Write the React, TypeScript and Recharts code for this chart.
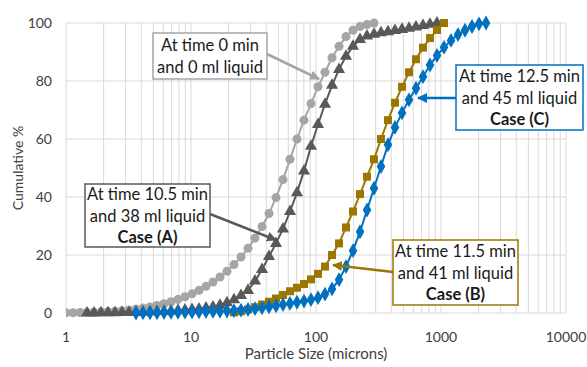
import React from 'react';
import { ComposedChart, Scatter, XAxis, YAxis, ZAxis, CartesianGrid, Label } from 'recharts';

// shared particle size bins (microns)
const SIZES = [
  1.0, 1.138, 1.295, 1.473, 1.675, 1.905, 2.168, 2.466, 2.805, 3.192,
  3.631, 4.13, 4.699, 5.346, 6.081, 6.918, 7.87, 8.954, 10.19, 11.59,
  13.18, 15.0, 17.06, 19.41, 22.08, 25.12, 28.58, 32.51, 36.98, 42.07,
  47.86, 54.45, 61.94, 70.47, 80.17, 91.2, 103.8, 118.0, 134.3, 152.8,
  173.8, 197.7, 225.0, 255.9, 291.1, 331.1, 376.7, 428.5, 487.5, 554.6,
  631.0, 717.8, 816.6, 929.0, 1057, 1202, 1368, 1556, 1770, 2014, 2291,
];

const GRID_X = [
  1, 2, 3, 4, 5, 6, 7, 8, 9,
  10, 20, 30, 40, 50, 60, 70, 80, 90,
  100, 200, 300, 400, 500, 600, 700, 800, 900,
  1000, 2000, 3000, 4000, 5000, 6000, 7000, 8000, 9000,
  10000,
];
const Y_TICKS = [0, 20, 40, 60, 80, 100];

// cumulative % per series, starting at the given bin
const T0_START = 0;
const T0_VALUES = [
  0.05, 0.1, 0.15, 0.2, 0.25, 0.35, 0.45, 0.6, 0.8, 1.05,
  1.35, 1.7, 2.1, 2.6, 3.2, 3.9, 4.7, 5.6, 6.6, 7.8,
  9.2, 10.7, 12.4, 14.4, 16.7, 19.3, 22.3, 25.8, 29.8, 34.3,
  39.8, 46, 53, 60, 66.5, 72.2, 78, 83, 88, 92,
  95.3, 97.5, 98.8, 99.5, 100,
];

const CASE_A_START = 3;
const CASE_A_VALUES = [
  0, 0, 0.05, 0.1, 0.1, 0.15, 0.2, 0.25, 0.3, 0.4,
  0.5, 0.6, 0.7, 0.85, 1.0, 1.2, 1.4, 1.7, 2.1, 2.7,
  3.5, 4.6, 6.0, 7.8, 11, 15, 19.5, 24, 29, 35,
  41.5, 49, 57.5, 65, 72, 78.5, 84, 88.5, 92, 94.3,
  95.5, 96.1, 96.6, 97, 97.4, 97.8, 98.2, 98.6, 99.1, 99.6,
  100,
];

const CASE_B_START = 24;
const CASE_B_VALUES = [
  0.2, 0.6, 1.2, 2.0, 2.9, 3.9, 5.0, 6.2, 7.5, 8.7,
  10.0, 11.6, 13.5, 16, 20, 24, 29.5, 35, 41, 47,
  53, 60, 66.5, 72.5, 78, 83, 87.5, 91.5, 94.8, 97.6,
  100,
];

const CASE_C_START = 10;
const CASE_C_VALUES = [
  0, 0.05, 0.1, 0.1, 0.15, 0.2, 0.25, 0.3, 0.35, 0.4,
  0.5, 0.55, 0.6, 0.7, 0.8, 1.0, 1.2, 1.5, 1.8, 2.1,
  2.5, 2.9, 3.3, 3.7, 4.1, 4.6, 5.3, 6.5, 8.3, 11.5,
  16, 21.5, 28, 35.5, 43, 50.5, 58, 64, 69, 73.5,
  77.5, 81.5, 85.5, 88.8, 91.6, 94, 96, 97.5, 98.8, 99.7,
  100,
];

const toPoints = (start: number, values: number[]) =>
  values.map((y, i) => ({ x: SIZES[start + i], y }));

const GRAY = '#A5A5A5';
const DARK = '#595959';
const GOLD = '#9C7700';
const BLUE = '#0070C0';
const FONT = 'Lato, "Open Sans", sans-serif';

const XTick = (props: any) => {
  const { x, y, payload } = props;
  const lg = Math.log10(payload.value);
  if (Math.abs(lg - Math.round(lg)) > 1e-9) return <g />;
  return (
    <text x={x} y={y + 27} textAnchor="middle" fontSize={14} fill="#404040" fontFamily={FONT}>
      {payload.value}
    </text>
  );
};

type Note = {
  x: number; y: number; w: number; h: number;
  color: string; lines: string[]; bold?: string;
  from: [number, number]; to: [number, number];
};

const NOTES: Note[] = [
  { x: 153, y: 33, w: 114, h: 46, color: GRAY, lines: ['At time 0 min', 'and 0 ml liquid'], from: [267, 54], to: [319, 79] },
  { x: 85, y: 184, w: 125, h: 63, color: DARK, lines: ['At time 10.5 min', 'and 38 ml liquid'], bold: 'Case (A)', from: [210, 214], to: [276, 240] },
  { x: 456, y: 65, w: 127, h: 65, color: BLUE, lines: ['At time 12.5 min', 'and 45 ml liquid'], bold: 'Case (C)', from: [456, 98], to: [418, 98] },
  { x: 393, y: 240, w: 125, h: 65, color: GOLD, lines: ['At time 11.5 min', 'and 41 ml liquid'], bold: 'Case (B)', from: [393, 272], to: [333, 265] },
];

function Annotations() {
  return (
    <svg width={587} height={367} style={{ position: 'absolute', left: 0, top: 0, pointerEvents: 'none' }}>
      <defs>
        {NOTES.map((n, i) => (
          <marker key={i} id={`arrow-${i}`} viewBox="0 0 10 10" refX="9" refY="5" markerWidth="4" markerHeight="4" orient="auto">
            <path d="M0,0 L10,5 L0,10 z" fill={n.color} />
          </marker>
        ))}
      </defs>
      <text x={17} y={168} transform="rotate(-90 17 168)" textAnchor="middle" dominantBaseline="central" fontSize={14} fill="#404040" fontFamily={FONT}>
        Cumulative %
      </text>
      {NOTES.map((n, i) => {
        const all = n.bold ? [...n.lines, n.bold] : n.lines;
        const lh = 21.7;
        const top = n.y + n.h / 2 - (lh * (all.length - 1)) / 2;
        return (
          <g key={i}>
            <line x1={n.from[0]} y1={n.from[1]} x2={n.to[0]} y2={n.to[1]} stroke={n.color} strokeWidth={2.5} markerEnd={`url(#arrow-${i})`} />
            <rect x={n.x} y={n.y} width={n.w} height={n.h} fill="#fff" stroke={n.color} strokeWidth={1.5} />
            {all.map((t, j) => (
              <text key={j} x={n.x + n.w / 2} y={top + j * lh} textAnchor="middle" dominantBaseline="central"
                fontSize={16.5} fill="#1a1a1a" fontFamily={FONT} fontWeight={n.bold && j === all.length - 1 ? 700 : 400}>
                {t}
              </text>
            ))}
          </g>
        );
      })}
    </svg>
  );
}

export default function App() {
  return (
    <div style={{ position: 'absolute', left: 0, top: 0, width: 587, height: 367, background: '#fff' }}>
      <ComposedChart width={587} height={367} margin={{ top: 23, right: 21, bottom: 0, left: 0 }}>
        <CartesianGrid stroke="#D9D9D9" strokeWidth={1} />
        <XAxis
          type="number"
          dataKey="x"
          scale="log"
          domain={[1, 10000]}
          ticks={GRID_X}
          interval={0}
          allowDataOverflow
          axisLine={false}
          tickLine={false}
          tickSize={0}
          tick={<XTick />}
          height={54}
        >
          <Label value="Particle Size (microns)" position="insideBottom" offset={8} fontSize={15} fill="#404040" fontFamily={FONT} />
        </XAxis>
        <YAxis
          type="number"
          dataKey="y"
          domain={[0, 100]}
          ticks={Y_TICKS}
          axisLine={false}
          tickLine={false}
          tickSize={0}
          tickMargin={14}
          width={66}
          tick={{ fontSize: 14, fill: '#404040', fontFamily: FONT }}
        />
        <ZAxis range={[52, 52]} />
        <Scatter data={toPoints(T0_START, T0_VALUES)} shape="circle" fill={GRAY} line={{ stroke: GRAY, strokeWidth: 2 }} lineType="joint" isAnimationActive={false} />
        <Scatter data={toPoints(CASE_A_START, CASE_A_VALUES)} shape="triangle" fill={DARK} line={{ stroke: DARK, strokeWidth: 2 }} lineType="joint" isAnimationActive={false} />
        <Scatter data={toPoints(CASE_B_START, CASE_B_VALUES)} shape="square" fill={GOLD} line={{ stroke: GOLD, strokeWidth: 2 }} lineType="joint" isAnimationActive={false} />
        <Scatter data={toPoints(CASE_C_START, CASE_C_VALUES)} shape="diamond" fill={BLUE} line={{ stroke: BLUE, strokeWidth: 2 }} lineType="joint" isAnimationActive={false} />
      </ComposedChart>
      <Annotations />
    </div>
  );
}
